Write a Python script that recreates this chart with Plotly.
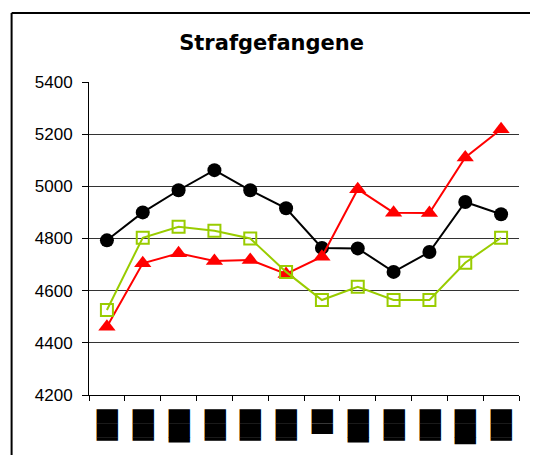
import plotly.graph_objects as go

# redacted month labels in the source, shown as block glyphs
categories = ["██▎", "██▎ ", "██▍", "██▎  ", "██▎   ", "██▎    ",
              "█▊", "██▍ ", "██▎     ", "██▎      ", "██▌", "██▎       "]

black_series = [4793, 4900, 4985, 5062, 4985, 4916, 4764, 4762, 4672, 4748, 4940, 4893]
red_series = [4462, 4705, 4743, 4714, 4718, 4664, 4730, 4989, 4899, 4898, 5111, 5219]
green_series = [4526, 4803, 4845, 4830, 4800, 4672, 4564, 4615, 4564, 4564, 4707, 4803]

fig = go.Figure()

fig.add_trace(go.Scatter(
    x=categories, y=black_series, mode="lines+markers",
    line=dict(color="black", width=2),
    marker=dict(symbol="circle", size=14, color="black"),
))
fig.add_trace(go.Scatter(
    x=categories, y=red_series, mode="lines+markers",
    line=dict(color="#ff0000", width=2),
    marker=dict(symbol="triangle-up", size=15, color="#ff0000"),
))
fig.add_trace(go.Scatter(
    x=categories, y=green_series, mode="lines+markers",
    line=dict(color="#99cc00", width=2),
    marker=dict(symbol="square-open", size=12, color="#99cc00", line=dict(width=2)),
))

# page body has an 8px margin; keep the figure inside the window
fig.update_layout(
    width=522, height=447,
    margin=dict(l=81, r=11, t=74, b=60),
    paper_bgcolor="white", plot_bgcolor="white",
    showlegend=False,
    font=dict(family="Arial, Liberation Sans, sans-serif", color="black", size=16),
    title=dict(
        text="<b>Strafgefangene</b>",
        x=0.505, xanchor="center", y=0.9215, yanchor="middle",
        font=dict(family="DejaVu Sans", size=21, color="black"),
    ),
    xaxis=dict(
        type="category", tickson="boundaries", automargin=False,
        range=[-0.5, len(categories) - 0.5],
        showline=True, linecolor="black", linewidth=1,
        ticks="outside", ticklen=5, tickcolor="black",
        showgrid=False, tickangle=90, ticklabelstandoff=10,
        tickfont=dict(family="DejaVu Sans", size=18, color="black"),
    ),
    yaxis=dict(
        range=[4200, 5400], dtick=200, automargin=False,
        showline=True, linecolor="black", linewidth=1,
        ticks="outside", ticklen=6, tickcolor="black",
        showgrid=True, gridcolor="#333333", gridwidth=1,
        zeroline=False, ticklabelstandoff=6,
        tickfont=dict(size=17),
    ),
    shapes=[
        dict(type="line", xref="paper", yref="paper",
             x0=-0.180, x1=1.0256, y0=1.2204, y1=1.2204,
             line=dict(color="black", width=2)),
        dict(type="line", xref="paper", yref="paper",
             x0=-0.180, x1=-0.180, y0=-0.2, y1=1.2204,
             line=dict(color="black", width=2)),
    ],
)

fig.write_html("out.html")
